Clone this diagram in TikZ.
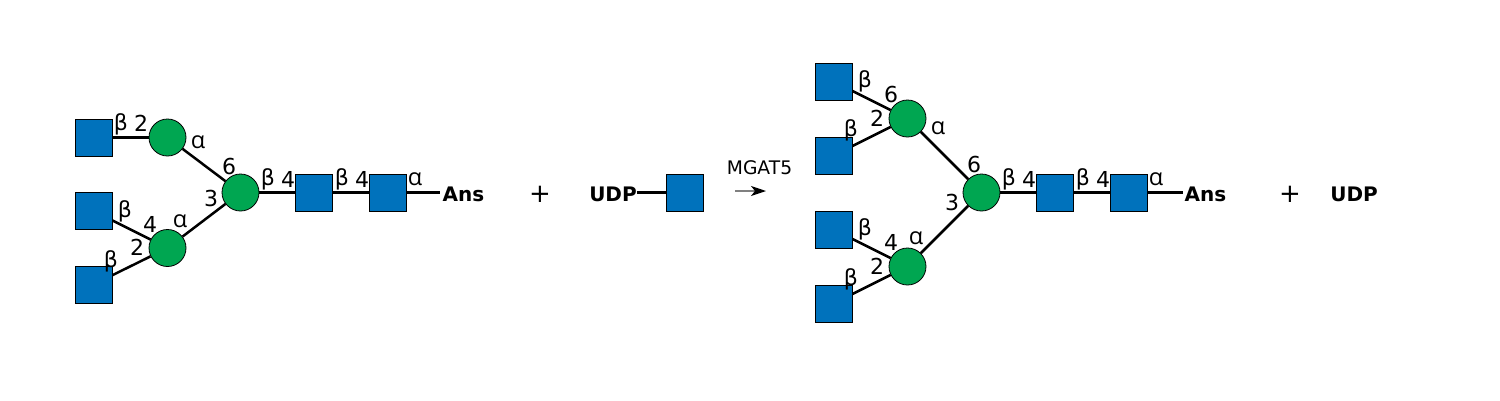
\documentclass[tikz,border=0pt]{standalone}
\usepackage{fontspec}
\setmainfont{DejaVu Sans}
\newfontfamily\alphafont{Open Sans}
\usetikzlibrary{arrows.meta}
\definecolor{gnblue}{HTML}{0072BC}
\definecolor{gngreen}{HTML}{00A651}
\newcommand{\al}{{\alphafont\fontsize{23.5}{23.5}\selectfont α}}
\begin{document}
\begin{tikzpicture}[x=1pt,y=-1pt]
\tikzstyle{sq}=[draw,fill=gnblue,rectangle,minimum size=37pt,inner sep=0pt,line width=.8pt]
\tikzstyle{rd}=[draw,fill=gngreen,circle,minimum size=37pt,inner sep=0pt,line width=.8pt]
\tikzstyle{lb}=[inner sep=0pt,font=\fontsize{22}{22}\selectfont]
\tikzstyle{nm}=[inner sep=0pt,font=\fontsize{20}{20}\selectfont\bfseries]
\tikzstyle{pl}=[inner sep=0pt,font=\fontsize{26}{26}\selectfont]
\tikzstyle{bond}=[line width=2.5pt]
\useasboundingbox (0,0) rectangle (1500,400);
% left glycan
\draw (93.5,137.5) node (a1) [sq] {};
\draw (93.5,211) node (a2) [sq] {};
\draw (93.5,284.5) node (a3) [sq] {};
\draw (167.5,137.5) node (b1) [rd] {};
\draw (167.5,248) node (b2) [rd] {};
\draw (240.5,192.5) node (c1) [rd] {};
\draw (314,192.5) node (d1) [sq] {};
\draw (388,192.5) node (d2) [sq] {};
\draw (463.5,194) node (ans1) [nm,inner sep=2pt] {Ans};
\draw (a1) -- (b1) [bond];
\draw (a2) -- (b2) [bond];
\draw (a3) -- (b2) [bond];
\draw (b1) -- (c1) [bond];
\draw (b2) -- (c1) [bond];
\draw (c1) -- (d1) [bond];
\draw (d1) -- (d2) [bond];
\draw (d2) -- (d2 -| ans1.west) [bond];
\draw (121,124) node (la1) [lb] {β};
\draw (141,123) node (la2) [lb] {2};
\draw (198,142.5) node (la3) [lb] {\al};
\draw (229,166) node (la4) [lb] {6};
\draw (211,198) node (la5) [lb] {3};
\draw (268,179) node (la6) [lb] {β};
\draw (288,179) node (la7) [lb] {4};
\draw (342,179) node (la8) [lb] {β};
\draw (362,179) node (la9) [lb] {4};
\draw (415,179.5) node (la10) [lb] {\al};
\draw (125,211) node (la11) [lb] {β};
\draw (150,224) node (la12) [lb] {4};
\draw (180,221.5) node (la13) [lb] {\al};
\draw (137,247) node (la14) [lb] {2};
\draw (111,261) node (la15) [lb] {β};
% donor and arrow
\draw (540,194) node (plus1) [pl] {+};
\draw (613,194) node (udp1) [nm] {UDP};
\draw (685,192.5) node (e1) [sq] {};
\draw (udp1.east |- e1) -- (e1) [bond];
\draw (759.5,168) node (enz) [lb,font=\fontsize{18.7}{18.7}\selectfont] {MGAT5};
\coordinate (ar1) at (735,191);
\coordinate (ar2) at (766,191);
\draw (ar1) -- (ar2) [gray,line width=1.2pt,-{Stealth[black,length=15pt,width=10pt,inset=4pt]}];
% right glycan
\draw (833.5,81.5) node (f1) [sq] {};
\draw (833.5,155.5) node (f2) [sq] {};
\draw (833.5,229.5) node (f3) [sq] {};
\draw (833.5,303.5) node (f4) [sq] {};
\draw (907.5,118.5) node (g1) [rd] {};
\draw (907.5,266.5) node (g2) [rd] {};
\draw (981.5,192.5) node (h1) [rd] {};
\draw (1055,192.5) node (i1) [sq] {};
\draw (1129,192.5) node (i2) [sq] {};
\draw (1205.5,194) node (ans2) [nm,inner sep=2pt] {Ans};
\draw (f1) -- (g1) [bond];
\draw (f2) -- (g1) [bond];
\draw (f3) -- (g2) [bond];
\draw (f4) -- (g2) [bond];
\draw (g1) -- (h1) [bond];
\draw (g2) -- (h1) [bond];
\draw (h1) -- (i1) [bond];
\draw (i1) -- (i2) [bond];
\draw (i2) -- (i2 -| ans2.west) [bond];
\draw (865,81) node (lb1) [lb] {β};
\draw (891,94) node (lb2) [lb] {6};
\draw (877,118) node (lb3) [lb] {2};
\draw (851,130) node (lb4) [lb] {β};
\draw (938,128.5) node (lb5) [lb] {\al};
\draw (974,164) node (lb6) [lb] {6};
\draw (952,202) node (lb7) [lb] {3};
\draw (1009,179) node (lb8) [lb] {β};
\draw (1029,179) node (lb9) [lb] {4};
\draw (1083,179) node (lb10) [lb] {β};
\draw (1103,179) node (lb11) [lb] {4};
\draw (1156,179.5) node (lb12) [lb] {\al};
\draw (865,229) node (lb13) [lb] {β};
\draw (891,242) node (lb14) [lb] {4};
\draw (916,238.5) node (lb15) [lb] {\al};
\draw (877,266) node (lb16) [lb] {2};
\draw (851,279) node (lb17) [lb] {β};
\draw (1290,194) node (plus2) [pl] {+};
\draw (1354,194) node (udp2) [nm] {UDP};
\end{tikzpicture}
\end{document}
